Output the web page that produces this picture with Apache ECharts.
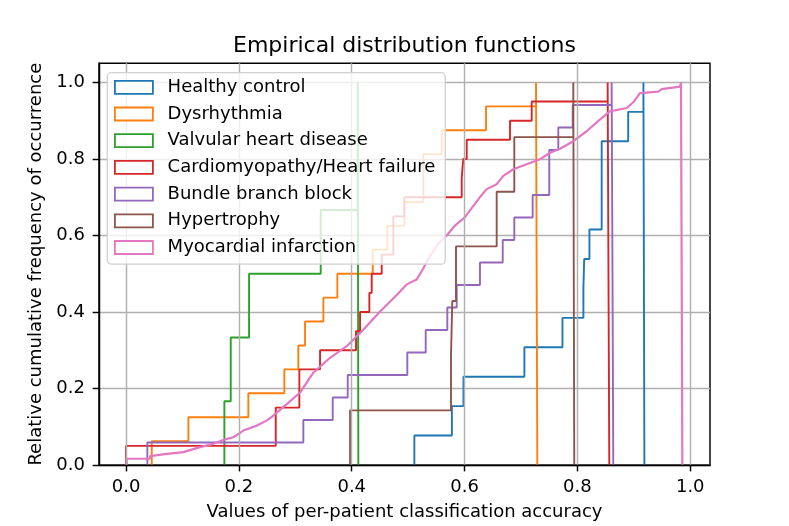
<!DOCTYPE html>
<html><head><meta charset="utf-8">
<script src="https://cdn.jsdelivr.net/npm/echarts@6/dist/echarts.min.js"></script>
<style>html,body{margin:0;padding:0;background:#fff}#c{width:789px;height:526px}</style>
</head><body><div id="c"></div>
<script>
// ---- data ----
const seriesNames = ['Healthy control','Dysrhythmia','Valvular heart disease','Cardiomyopathy/Heart failure','Bundle branch block','Hypertrophy','Myocardial infarction'];
const colors = ['#1f77b4','#ff7f0e','#2ca02c','#d62728','#9467bd','#8c564b','#e377c2'];

// Step ECDFs: x where each jump happens, cumulative patient count after the jump, total patients, x where outline drops back to 0
const healthyX = [0.511,0.5775,0.598,0.706,0.7735,0.8106,0.812,0.8213,0.843,0.890,0.917];
const healthyCount = [1,2,3,4,5,6,7,8,11,12,13];
const healthyN = 13, healthyEnd = 0.9187;

const dysX = [0.0455,0.1104,0.2167,0.2805,0.3053,0.3172,0.3497,0.3745,0.4372,0.4631,0.4932,0.5268,0.5595,0.638,0.7266];
const dysCount = [1,2,3,4,5,6,7,8,9,10,11,13,14,15,16];
const dysN = 16, dysEnd = 0.7289;

const valvX = [0.1742,0.1855,0.218,0.345,0.4106];
const valvCount = [1,2,3,4,6];
const valvN = 6, valvEnd = 0.4117;

const cardioX = [0.0,0.2653,0.3071,0.3438,0.4076,0.4147,0.4312,0.4354,0.4531,0.4737,0.4932,0.5949,0.5977,0.6038,0.6805,0.719,0.8536];
const cardioCount = [1,3,5,6,7,8,9,10,11,13,14,15,16,17,18,19,20];
const cardioN = 20, cardioEnd = 0.8565;

const bundleX = [0.0377,0.3142,0.3663,0.3929,0.4985,0.5311,0.5694,0.586,0.6273,0.6676,0.6881,0.7207,0.7501,0.7661,0.7916,0.8607];
const bundleCount = [1,2,3,4,5,6,7,8,9,10,11,12,14,15,16,17];
const bundleN = 17, bundleEnd = 0.8636;

const hyperX = [0.397,0.5759,0.5782,0.5848,0.6569,0.6881,0.7927];
const hyperCount = [1,2,3,4,5,6,7];
const hyperN = 7, hyperEnd = 0.7944;

// Myocardial infarction: many small steps, traced as read points
const miX = [0.0012,0.0012,0.0425,0.0425,0.0721,0.1015,0.1311,0.1547,0.1724,0.1901,0.2079,0.2316,0.2493,0.2610,0.2729,0.2848,0.3084,0.3319,0.3615,0.3911,0.4205,0.4501,0.4797,0.4974,0.5152,0.5268,0.5357,0.5534,0.5683,0.5830,0.6007,0.6096,0.6273,0.6392,0.6569,0.6686,0.6863,0.7101,0.7336,0.7514,0.7691,0.7927,0.8164,0.8397,0.8575,0.8873,0.8990,0.9109,0.9433,0.9493,0.9818,0.9836,0.9836,0.986,0.986];
const miY = [0,0.0163,0.0163,0.0233,0.0293,0.0337,0.0467,0.0553,0.0656,0.0726,0.0900,0.1030,0.1160,0.1289,0.1440,0.1590,0.1894,0.2412,0.2802,0.3105,0.3536,0.4013,0.4444,0.4721,0.4851,0.5136,0.5396,0.5785,0.6000,0.6259,0.6477,0.6654,0.7004,0.7211,0.7341,0.7556,0.7730,0.7860,0.7990,0.8163,0.8267,0.8464,0.8724,0.9027,0.9243,0.9331,0.9481,0.9720,0.9761,0.9824,0.9891,0.9891,1.0,1.0,0];

const xTicks = [0.0,0.2,0.4,0.6,0.8,1.0];
const yTicks = [0.0,0.2,0.4,0.6,0.8,1.0];

// ---- build ----
function stepData(xs, counts, n, end) {
  const pts = [[xs[0], 0]];
  xs.forEach((x, i) => pts.push([x, counts[i] / n]));
  pts.push([end, 0]);
  return pts;
}
const stepSets = [
  stepData(healthyX, healthyCount, healthyN, healthyEnd),
  stepData(dysX, dysCount, dysN, dysEnd),
  stepData(valvX, valvCount, valvN, valvEnd),
  stepData(cardioX, cardioCount, cardioN, cardioEnd),
  stepData(bundleX, bundleCount, bundleN, bundleEnd),
  stepData(hyperX, hyperCount, hyperN, hyperEnd)
];
const miData = miX.map((x, i) => [x, miY[i]]);

const FONT = 'DejaVu Sans';
const series = stepSets.map((d, i) => ({
  name: seriesNames[i], type: 'line', step: 'end', data: d,
  showSymbol: false, symbol: 'none', animation: false,
  lineStyle: { color: colors[i], width: 1.9 }, itemStyle: { color: colors[i] }
}));
series.push({
  name: seriesNames[6], type: 'line', data: miData,
  showSymbol: false, symbol: 'none', animation: false,
  lineStyle: { color: colors[6], width: 2.2 }, itemStyle: { color: colors[6] }
});

const chart = echarts.init(document.getElementById('c'), null, { renderer: 'canvas' });
chart.setOption({
  backgroundColor: '#fff',
  animation: false,
  textStyle: { fontFamily: FONT },
  title: {
    text: 'Empirical distribution functions',
    left: 404.5, top: 35, padding: 0, textAlign: 'center',
    textStyle: { fontFamily: FONT, fontSize: 22, fontWeight: 'normal', color: '#000', lineHeight: 22 }
  },
  legend: {
    orient: 'vertical', left: 107.3, top: 72.7, z: 10,
    padding: [5.6, 10, 7.7, 6.7],
    itemWidth: 38, itemHeight: 13, itemGap: 8.7,
    backgroundColor: 'rgba(255,255,255,0.8)', borderColor: '#d0d0d0', borderWidth: 1.3, borderRadius: 4,
    textStyle: { fontFamily: FONT, fontSize: 18, color: '#000', lineHeight: 18, padding: [0, 0, 0, 9.7] },
    data: seriesNames.map((n, i) => ({
      name: n, icon: 'rect',
      itemStyle: { color: '#fff', borderColor: colors[i], borderWidth: 1.8 }
    }))
  },
  grid: { left: 99, right: 79, top: 63.3, bottom: 58, show: true, borderColor: '#000', borderWidth: 1.46, containLabel: false },
  xAxis: {
    type: 'value', min: -0.048, max: 1.035, z: 4,
    name: 'Values of per-patient classification accuracy', nameLocation: 'middle', nameGap: 38,
    nameTextStyle: { fontFamily: FONT, fontSize: 18, color: '#000', lineHeight: 18 },
    axisLine: { show: true, onZero: false, lineStyle: { color: '#000', width: 1.46 } },
    axisTick: { show: true, customValues: xTicks, length: 6.4, lineStyle: { color: '#000', width: 1.46 } },
    axisLabel: { customValues: xTicks, margin: 13, fontFamily: FONT, fontSize: 18, color: '#000', lineHeight: 18, formatter: v => v.toFixed(1) },
    splitLine: { show: true, lineStyle: { color: '#b0b0b0', width: 1.46 } }
  },
  yAxis: {
    type: 'value', min: 0, max: 1.05, z: 3,
    name: 'Relative cumulative frequency of occurrence', nameLocation: 'middle', nameGap: 49, nameRotate: 90,
    nameTextStyle: { fontFamily: FONT, fontSize: 18, color: '#000', lineHeight: 18 },
    axisLine: { show: true, onZero: false, lineStyle: { color: '#000', width: 1.46 } },
    axisTick: { show: true, customValues: yTicks, length: 6.4, lineStyle: { color: '#000', width: 1.46 } },
    axisLabel: { customValues: yTicks, margin: 14, fontFamily: FONT, fontSize: 18, color: '#000', formatter: v => v.toFixed(1) },
    splitLine: { show: true, lineStyle: { color: '#b0b0b0', width: 1.46 } }
  },
  series: series
});
</script></body></html>
